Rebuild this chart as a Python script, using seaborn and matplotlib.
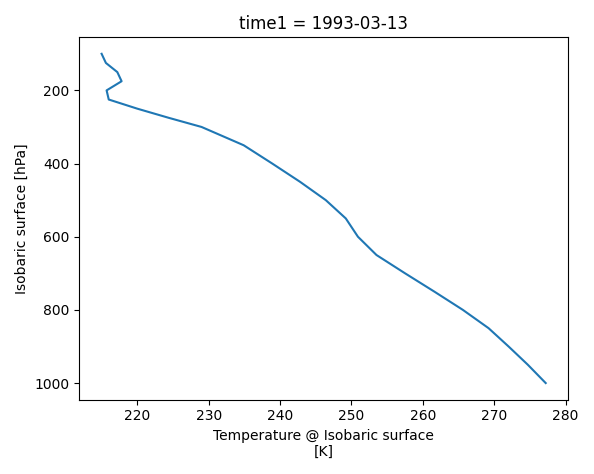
import pandas as pd
import matplotlib.pyplot as plt
import seaborn as sns

# Pressure levels and temperature profile
pressure = [100, 125, 150, 175, 200, 225, 250, 275, 300, 350, 400, 450,
            500, 550, 600, 650, 700, 750, 800, 850, 900, 950, 1000]
temperature = [215.0, 215.6, 217.2, 217.8, 215.7, 216.0, 220.0, 224.4, 229.0,
               234.9, 238.9, 242.8, 246.4, 249.2, 250.9, 253.5, 257.5, 261.6,
               265.6, 269.2, 272.0, 274.7, 277.2]

df = pd.DataFrame({"isobaric1": pressure, "Temperature_isobaric": temperature})

fig, ax = plt.subplots(figsize=(5.94, 4.74), dpi=100)
sns.lineplot(data=df, x="Temperature_isobaric", y="isobaric1", sort=False,
             estimator=None, orient="y", ax=ax, color="#1f77b4")
ax.invert_yaxis()
ax.set_title("time1 = 1993-03-13")
ax.set_xlabel("Temperature @ Isobaric surface\n[K]")
ax.set_ylabel("Isobaric surface [hPa]")
plt.tight_layout()
plt.savefig("out.png")
